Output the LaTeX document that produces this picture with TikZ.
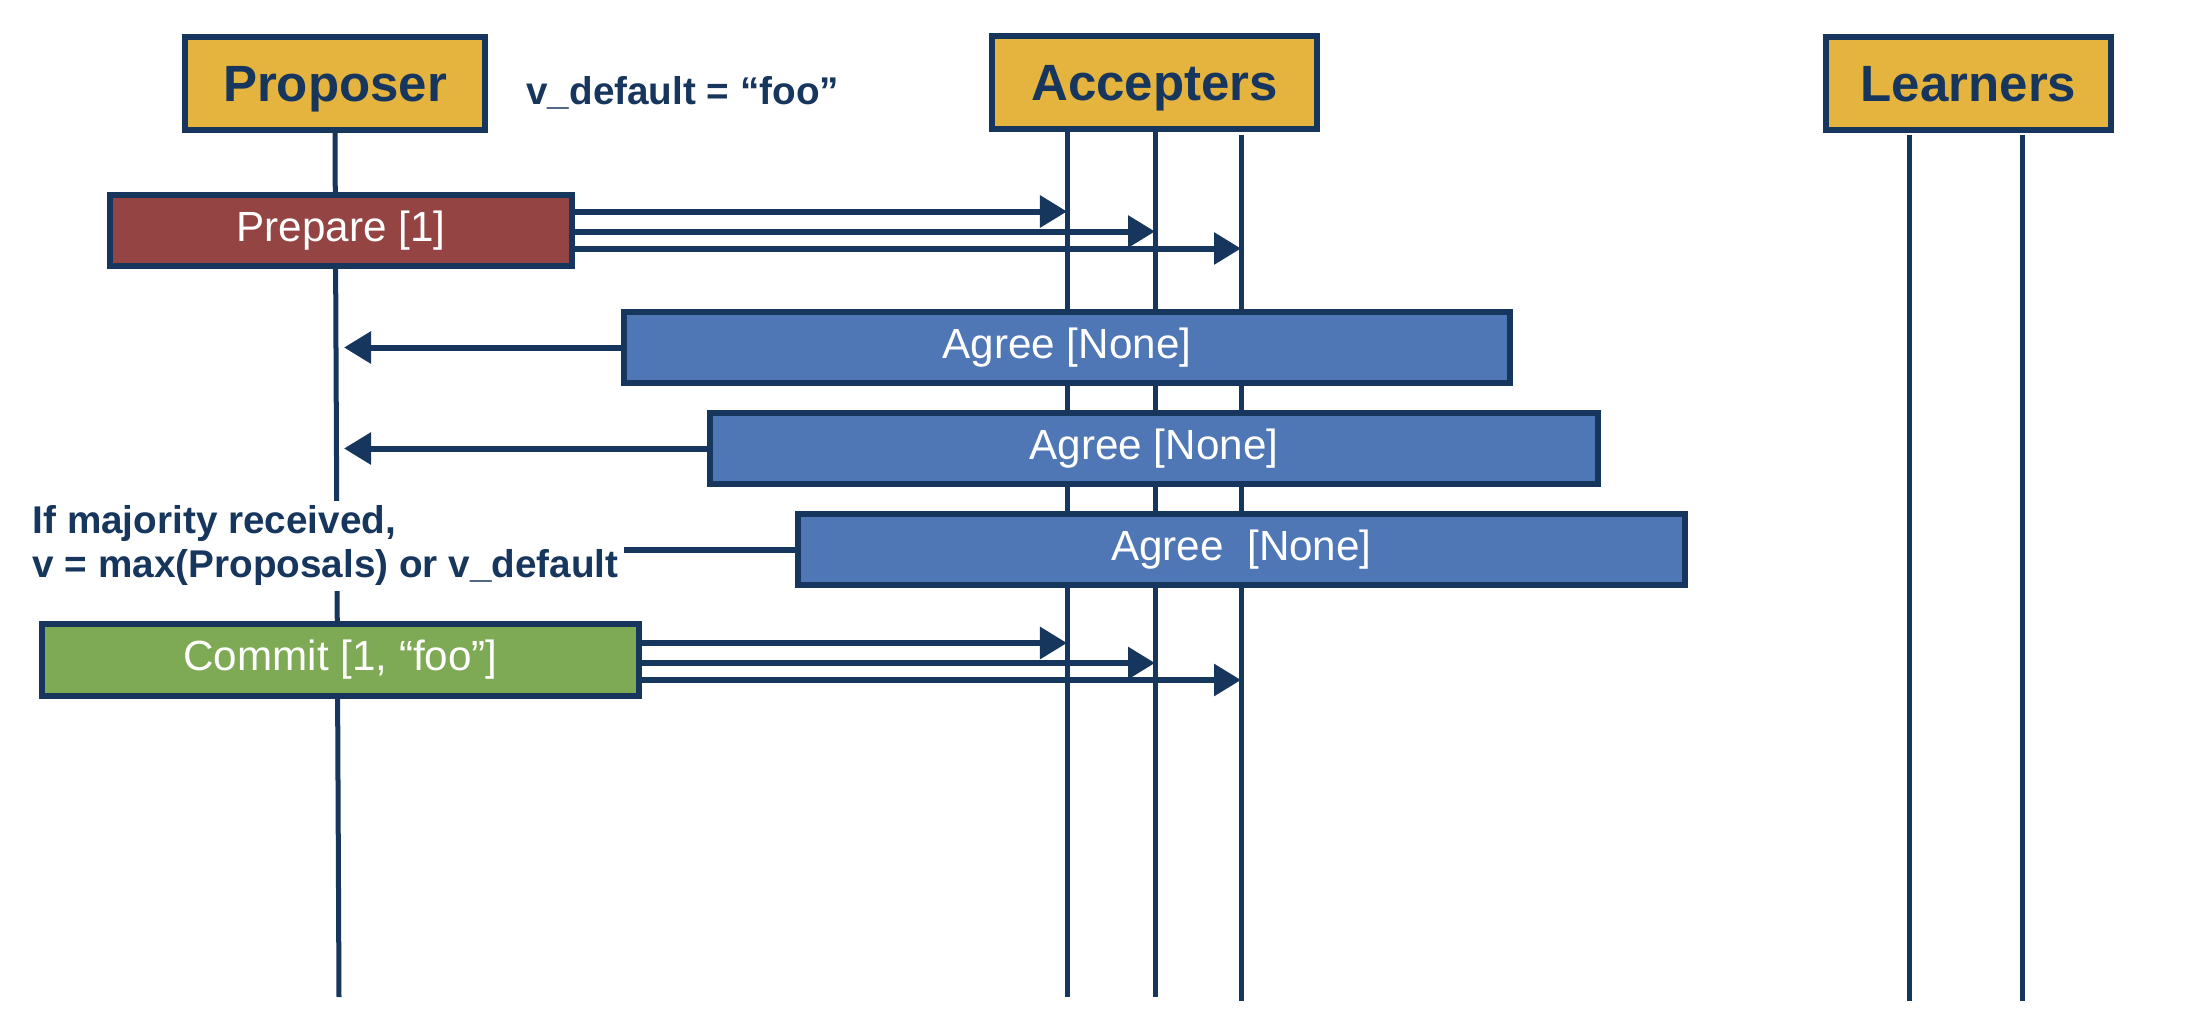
\documentclass[tikz,border=0pt]{standalone}
\usepackage{fontspec}
\setmainfont{Liberation Sans}
\usetikzlibrary{positioning, arrows.meta, calc}

\definecolor{navy}{HTML}{17365D}
\definecolor{gold}{HTML}{E5B43F}
\definecolor{brick}{HTML}{944543}
\definecolor{steel}{HTML}{4F77B5}
\definecolor{leaf}{HTML}{7FAA55}

\begin{document}
\begin{tikzpicture}[x=0.01cm, y=-0.01cm, >={Triangle[length=0.27cm, width=0.31cm]},
    role/.style={draw=navy, line width=0.06cm, fill=gold, text=navy, font=\fontsize{14.5}{17}\selectfont\bfseries, minimum height=0.93cm, inner sep=0pt, text depth=0pt},
    msgbox/.style={draw=navy, line width=0.06cm, text=white, font=\fontsize{12}{14}\selectfont, minimum height=0.71cm, inner sep=0pt},
    lifeline/.style={draw=navy, line width=0.05cm},
    msg/.style={draw=navy, line width=0.06cm, ->},
    note/.style={text=navy, font=\fontsize{11}{12.5}\selectfont\bfseries}]

      \useasboundingbox (0,0) rectangle (2188,1018);

      % Roles
      \node[role, minimum width=3cm] (proposer) at (335,83.5) {Proposer};
      \node[role, minimum width=3.25cm] (accepters) at (1154.5,82.5) {Accepters};
      \node[role, minimum width=2.85cm] (learners) at (1968.5,83.5) {Learners};
      \node[note, anchor=west] (vdefault) at (514,93) {v\_default = “foo”};

      % Lifelines
      \coordinate (pend) at (339,997);
      \draw[lifeline] (proposer.south) -- (pend);
      \foreach \name/\x/\ytop/\yend in {a1/1067/132/997, a2/1155/132/997, a3/1241/135/1001, l1/1909/135/1001, l2/2022/135/1001} {
        \coordinate (\name top) at (\x,\ytop);
        \coordinate (\name end) at (\x,\yend);
        \draw[lifeline] (\name top) -- (\name end);
      }

      % Prepare
      \node[msgbox, fill=brick, minimum width=4.62cm] (prepare) at (341,230.5) {Prepare [1]};
      \foreach \dy/\acc in {-19/a1, 1/a2, 18/a3} {
        \path (prepare.east) ++(0,\dy) coordinate (from);
        \draw[msg] (from) -- (from -| \acc top);
      }

      % Agree replies
      \node[msgbox, fill=steel, minimum width=8.86cm] (agree1) at (1067,347.5) {Agree [None]};
      \node[msgbox, fill=steel, minimum width=8.88cm] (agree2) at (1154,448.5) {Agree [None]};
      \node[msgbox, fill=steel, minimum width=8.87cm] (agree3) at (1241.5,549.5) {Agree\ \ [None]};
      \foreach \reply in {agree1, agree2, agree3}
        \draw[msg] (\reply.west) -- ([xshift=0.05cm]\reply.west -| pend);

      % Commit
      \node[msgbox, fill=leaf, minimum width=5.97cm] (commit) at (340.5,660) {Commit [1, “foo”]};
      \foreach \dy/\acc in {-17/a1, 3/a2, 20/a3} {
        \path (commit.east) ++(0,\dy) coordinate (from);
        \draw[msg] (from) -- (from -| \acc top);
      }

      % Majority rule
      \node[note, fill=white, align=left, anchor=north west, inner sep=0.05cm] (rule) at (27,500) {If majority received,\\v = max(Proposals) or v\_default};
    \end{tikzpicture}
\end{document}
